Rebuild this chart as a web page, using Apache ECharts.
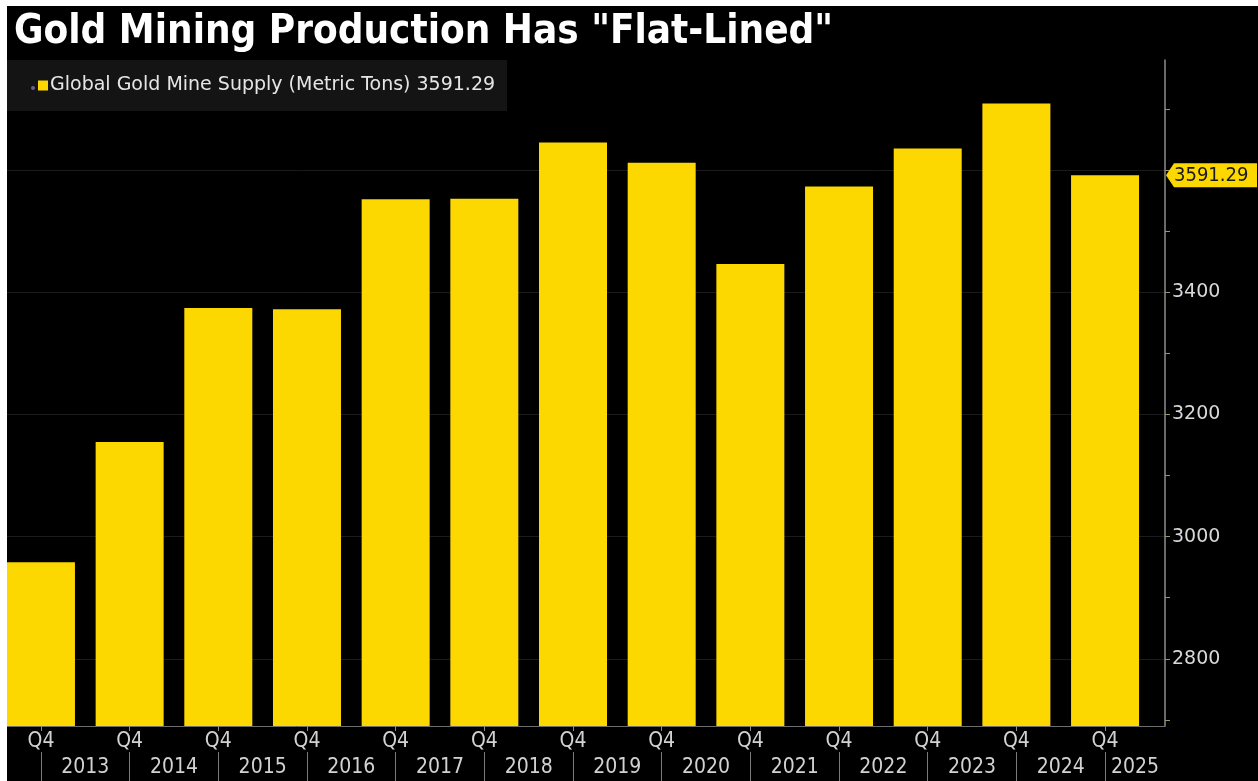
<!DOCTYPE html>
<html>
<head>
<meta charset="utf-8">
<title>Gold Mining Production Has "Flat-Lined"</title>
<script src="https://cdn.jsdelivr.net/npm/echarts@6/dist/echarts.min.js"></script>
<style>
  html, body { margin: 0; padding: 0; background: #ffffff; width: 1258px; height: 781px; overflow: hidden; }
  #chart { position: absolute; left: 7px; top: 6px; width: 1251px; height: 775px; background: #000000; }
</style>
</head>
<body>
<div id="chart"></div>
<script>
// Global gold mine supply, Q4 of each year (metric tons)
const years = ['2013', '2014', '2015', '2016', '2017', '2018', '2019', '2020', '2021', '2022', '2023', '2024', '2025'];
const quarterLabel = 'Q4';
const supply = [2958, 3155, 3374, 3372, 3552, 3553, 3645, 3612, 3446, 3573, 3635, 3709, 3591.29];

// Value-axis ticks and labels
const yLabelValues = [2800, 3000, 3200, 3400];
const yTickValues = [2700, 2800, 2900, 3000, 3100, 3200, 3300, 3400, 3500, 3600, 3700];
const gridValues = [2800, 3000, 3200, 3400, 3600];

const seriesName = 'Global Gold Mine Supply (Metric Tons)';
const YELLOW = '#fcd700';

// x runs over bar slots 0..12, with a little room either side
const X_MIN = -0.383;
const X_MAX = 12.676;
const slots = years.map((_, i) => i);
const yearPos = years.map((_, i) => i < years.length - 1 ? i + 0.5 : (i + X_MAX) / 2);
const latest = supply[supply.length - 1];

const chart = echarts.init(document.getElementById('chart'));

const option = {
  backgroundColor: '#000000',
  animation: false,
  title: {
    text: 'Gold Mining Production Has "Flat-Lined"',
    left: 2,
    top: 2,
    textStyle: {
      color: '#ffffff',
      fontFamily: 'DejaVu Sans Condensed',
      fontWeight: 'bold',
      fontSize: 40
    }
  },
  legend: {
    left: 0,
    top: 54,
    orient: 'horizontal',
    backgroundColor: '#141414',
    padding: [16, 12, 16, 31],
    itemWidth: 10,
    itemHeight: 10,
    icon: 'rect',
    data: [seriesName],
    formatter: (name) => name + ' ' + latest.toFixed(2),
    textStyle: {
      color: '#e6e6e6',
      fontFamily: 'DejaVu Sans',
      fontSize: 19,
      padding: [0, 0, 0, -3]
    }
  },
  grid: { left: 0, right: 93, top: 54, bottom: 55, containLabel: false },
  xAxis: [
    {
      type: 'value',
      min: X_MIN,
      max: X_MAX,
      position: 'bottom',
      splitLine: { show: false },
      axisLine: { show: true, onZero: false, lineStyle: { color: '#6e6e6e', width: 1 } },
      axisTick: { show: true, customValues: slots, length: 5, lineStyle: { color: '#8a8a8a' } },
      axisLabel: {
        customValues: slots,
        formatter: () => quarterLabel,
        color: '#d2d2d2',
        fontFamily: 'DejaVu Sans Condensed',
        fontSize: 21,
        margin: 5
      }
    },
    {
      type: 'value',
      min: X_MIN,
      max: X_MAX,
      position: 'bottom',
      offset: 26,
      splitLine: { show: false },
      axisLine: { show: false, onZero: false },
      axisTick: { show: true, customValues: slots, length: 30, lineStyle: { color: '#7a7a7a' } },
      axisLabel: {
        customValues: yearPos,
        formatter: (v) => {
          let best = 0;
          yearPos.forEach((p, i) => { if (Math.abs(p - v) < Math.abs(yearPos[best] - v)) best = i; });
          return years[best];
        },
        color: '#d2d2d2',
        fontFamily: 'DejaVu Sans Condensed',
        fontSize: 21,
        margin: 5
      }
    }
  ],
  yAxis: {
    type: 'value',
    position: 'right',
    min: 2690,
    max: 3780,
    splitLine: { show: false },
    axisLine: { show: true, onZero: false, lineStyle: { color: '#8c8c8c', width: 1.5 } },
    axisTick: { show: true, customValues: yTickValues, length: 5, lineStyle: { color: '#9a9470' } },
    axisLabel: {
      customValues: yLabelValues,
      formatter: (v) => String(v),
      color: '#d8d8d8',
      fontFamily: 'DejaVu Sans',
      fontSize: 19,
      margin: 7
    }
  },
  series: [
    {
      name: seriesName,
      type: 'bar',
      xAxisIndex: 0,
      barWidth: 68,
      itemStyle: { color: YELLOW },
      data: supply.map((v, i) => [i, v]),
      markLine: {
        silent: true,
        symbol: 'none',
        label: { show: false },
        lineStyle: { color: '#1b1b1b', type: 'solid', width: 1 },
        data: gridValues.map(v => ({ yAxis: v })),
        z: -1
      },
      z: 2
    }
  ]
};

chart.setOption(option);

// Last-value tag on the value axis, and the small marker dot before the legend swatch
function drawExtras() {
  const ax = chart.convertToPixel({ xAxisIndex: 0 }, X_MAX);
  const ay = chart.convertToPixel({ yAxisIndex: 0 }, latest);
  const h = 12;
  const w = 92;
  chart.setOption({
    graphic: [
      {
        type: 'polygon',
        z: 100,
        shape: { points: [[ax + 1, ay], [ax + 9, ay - h], [ax + w, ay - h], [ax + w, ay + h], [ax + 9, ay + h]] },
        style: { fill: YELLOW }
      },
      {
        type: 'text',
        z: 101,
        x: ax + 9,
        y: ay,
        style: {
          text: latest.toFixed(2),
          fill: '#1a1a1a',
          font: '20px "DejaVu Sans Condensed"',
          verticalAlign: 'middle'
        }
      },
      {
        type: 'circle',
        z: 100,
        shape: { cx: 26, cy: 82, r: 2 },
        style: { fill: '#6e5f8f' }
      }
    ]
  });
}
drawExtras();
</script>
</body>
</html>
